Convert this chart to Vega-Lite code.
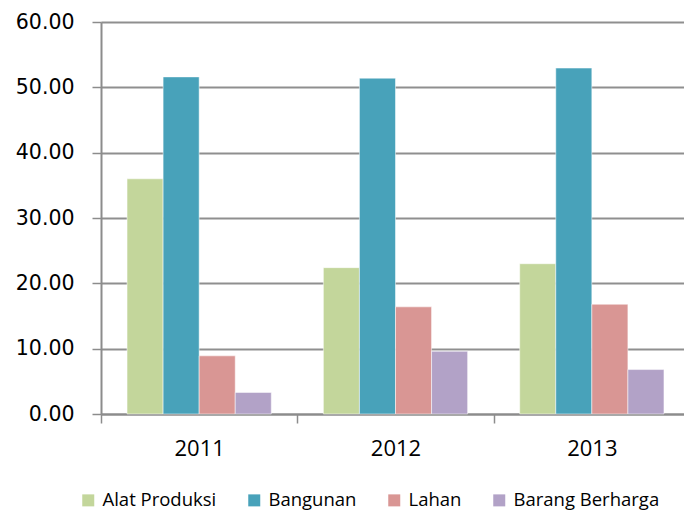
{
  "$schema": "https://vega.github.io/schema/vega-lite/v6.json",
  "autosize": {"type": "none"},
  "padding": {"left": 101, "top": 22, "right": 0, "bottom": 97},
  "width": 583,
  "height": 392,
  "background": "white",
  "data": {
    "values": [
      {"tahun": "2011", "jenis": "Alat Produksi", "nilai": 36.0},
      {"tahun": "2011", "jenis": "Bangunan", "nilai": 51.6},
      {"tahun": "2011", "jenis": "Lahan", "nilai": 8.9},
      {"tahun": "2011", "jenis": "Barang Berharga", "nilai": 3.3},
      {"tahun": "2012", "jenis": "Alat Produksi", "nilai": 22.4},
      {"tahun": "2012", "jenis": "Bangunan", "nilai": 51.4},
      {"tahun": "2012", "jenis": "Lahan", "nilai": 16.4},
      {"tahun": "2012", "jenis": "Barang Berharga", "nilai": 9.6},
      {"tahun": "2013", "jenis": "Alat Produksi", "nilai": 23.0},
      {"tahun": "2013", "jenis": "Bangunan", "nilai": 52.95},
      {"tahun": "2013", "jenis": "Lahan", "nilai": 16.8},
      {"tahun": "2013", "jenis": "Barang Berharga", "nilai": 6.8}
    ]
  },
  "mark": {"type": "bar", "stroke": "white", "strokeWidth": 1, "strokeOpacity": 0.5},
  "encoding": {
    "x": {
      "field": "tahun",
      "type": "nominal",
      "scale": {"range": [0, 589], "paddingInner": 0, "paddingOuter": 0},
      "axis": {
        "title": null,
        "labelAngle": 0,
        "labelFont": "Open Sans",
        "labelFontSize": 22,
        "labelColor": "#000000",
        "labelPadding": 15,
        "tickBand": "extent",
        "tickSize": 9,
        "tickColor": "#8c8c8c",
        "tickWidth": 1.5,
        "domainColor": "#8c8c8c",
        "domainWidth": 2,
        "grid": false
      }
    },
    "xOffset": {
      "field": "jenis",
      "type": "nominal",
      "sort": ["Alat Produksi", "Bangunan", "Lahan", "Barang Berharga"],
      "scale": {"paddingInner": 0, "paddingOuter": 0.722}
    },
    "y": {
      "field": "nilai",
      "type": "quantitative",
      "scale": {"domain": [0, 60], "nice": false},
      "axis": {
        "title": null,
        "values": [0, 10, 20, 30, 40, 50, 60],
        "format": ".2f",
        "labelFont": "DejaVu Sans",
        "labelFontSize": 20.5,
        "labelColor": "#000000",
        "labelPadding": 18,
        "tickSize": 9,
        "tickColor": "#8c8c8c",
        "tickWidth": 1.5,
        "domainColor": "#8c8c8c",
        "domainWidth": 2,
        "grid": true,
        "gridColor": "#8f8f8f",
        "gridWidth": 2
      }
    },
    "color": {
      "field": "jenis",
      "type": "nominal",
      "sort": ["Alat Produksi", "Bangunan", "Lahan", "Barang Berharga"],
      "scale": {
        "domain": ["Alat Produksi", "Bangunan", "Lahan", "Barang Berharga"],
        "range": ["#C3D69B", "#48A2BA", "#D99694", "#B2A2C7"]
      },
      "legend": {
        "title": null,
        "orient": "none",
        "direction": "horizontal",
        "legendX": -22,
        "legendY": 469,
        "symbolType": "square",
        "symbolSize": 144,
        "symbolStrokeWidth": 0,
        "labelFont": "Open Sans",
        "labelFontSize": 18.5,
        "labelColor": "#000000",
        "labelOffset": 5,
        "columnPadding": 28
      }
    }
  }
}
